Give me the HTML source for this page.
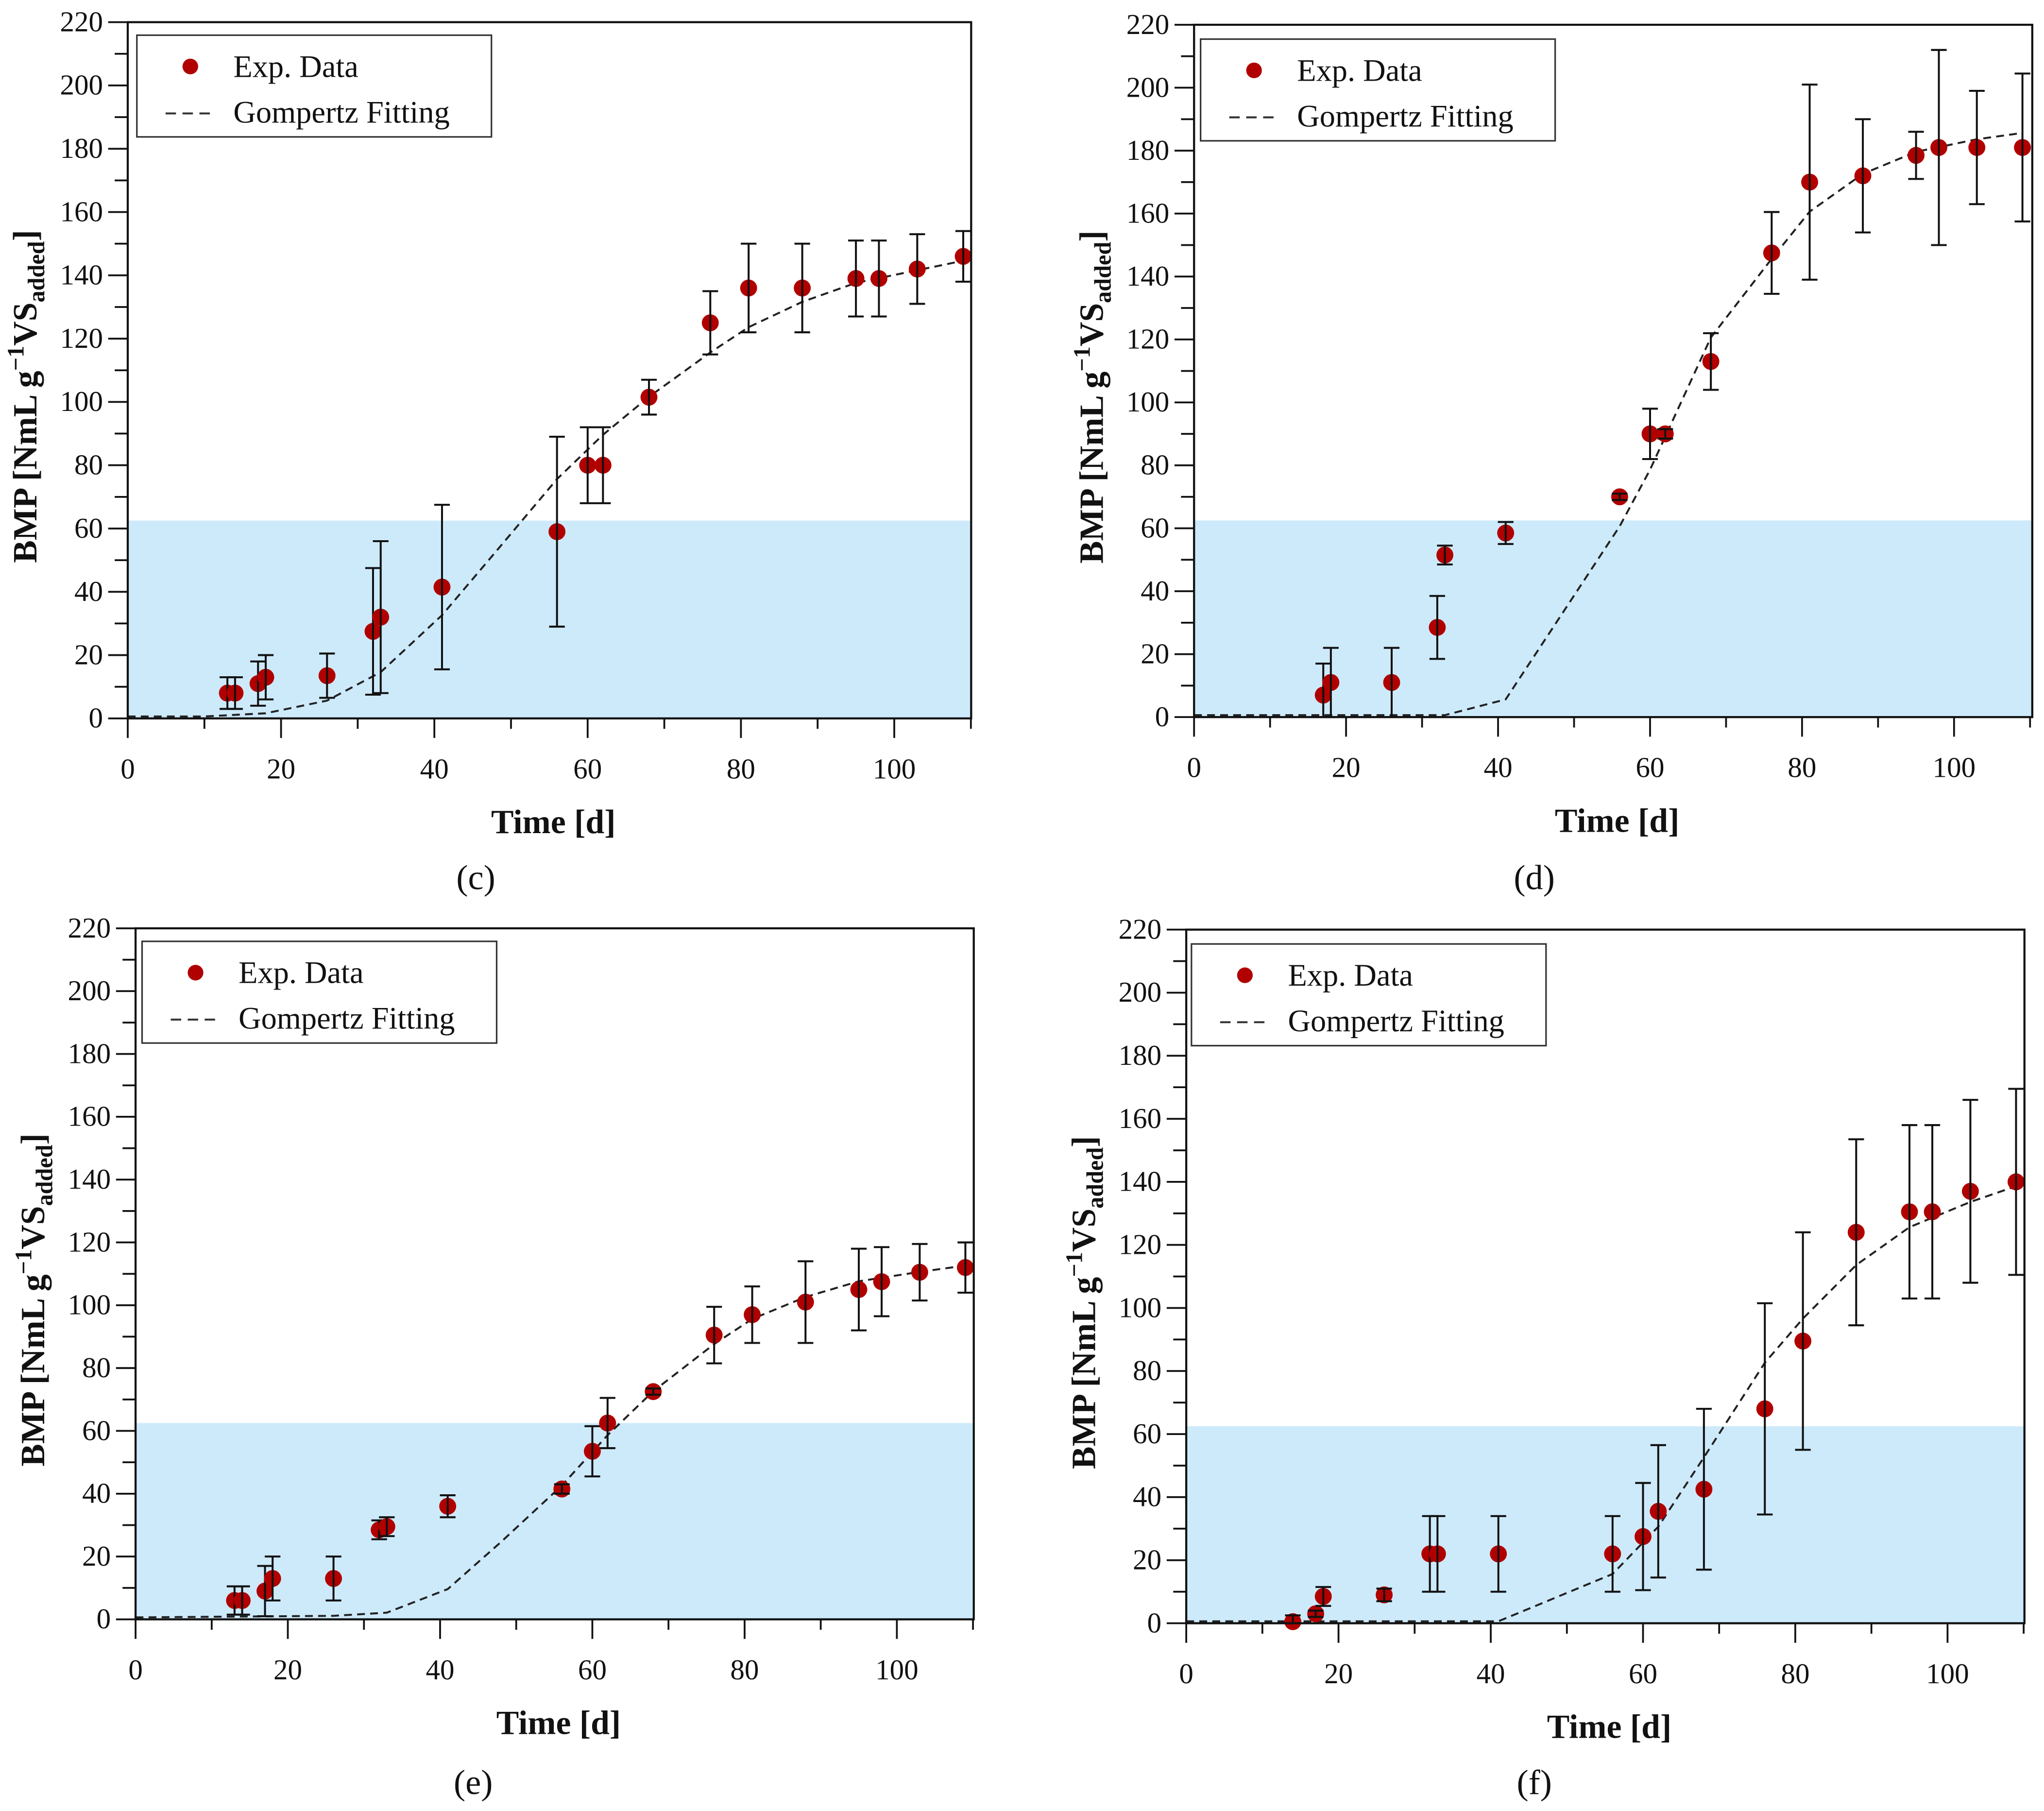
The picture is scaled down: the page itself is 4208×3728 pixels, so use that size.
<!DOCTYPE html>
<html><head><meta charset="utf-8"><style>
html,body{margin:0;padding:0;background:#fff}
svg{display:block;font-family:"Liberation Serif","DejaVu Serif",serif}
svg text{font-family:"Liberation Serif","DejaVu Serif",serif;fill:#111}
</style></head><body>
<svg id="fig" width="4208" height="3728" viewBox="0 0 1568 1389" preserveAspectRatio="none" font-family="Liberation Serif, serif" xmlns="http://www.w3.org/2000/svg"></svg>
<script>
// Panel (c)
const cX=[13,14,17,18,26,32,33,41,56,60,62,68,76,81,88,95,98,103,109];
const cY=[8,8,11,13,13.5,27.5,32,41.5,59,80,80,101.5,125,136,136,139,139,142,146];
const cE=[5,5,7,7,7,20,24,26,30,12,12,5.5,10,14,14,12,12,11,8];
const cFitX=[0,10,18,26,33,41,48,56,62,68,76,81,88,95,103,109];
const cFitY=[0,0,1,5,14,32,52,75,89,101,115,123,131,137,141,144];
// Panel (d)
const dX=[17,18,26,32,33,41,56,60,62,68,76,81,88,95,98,103,109];
const dY=[7,11,11,28.5,51.5,58.5,70,90,90,113,147.5,170,172,178.5,181,181,181];
const dE=[10,11,11,10,3,3.5,1,8,1.5,9,13,31,18,7.5,31,18,23.5];
const dFitX=[0,33,41,56,60,68,76,81,88,95,103,109];
const dFitY=[0,0,5,60,78,120,145,160,172,179,183,185];
// Panel (e)
const eX=[13,14,17,18,26,32,33,41,56,60,62,68,76,81,88,95,98,103,109];
const eY=[6,6,9,13,13,28.5,29.5,36,41.5,53.5,62.5,72.5,90.5,97,101,105,107.5,110.5,112];
const eE=[4.5,4.5,8,7,7,3,3,3.5,1.5,8,8,1,9,9,13,13,11,9,8];
const eFitX=[0,26,33,41,48,56,62,68,76,81,88,95,103,109];
const eFitY=[0,0.5,1.5,9,24,42,58,72,87,95,102,107,110,112];
// Panel (f)
const fX=[14,17,18,26,32,33,41,56,60,62,68,76,81,88,95,98,103,109];
const fY=[0.5,3,8.5,9,22,22,22,22,27.5,35.5,42.5,68,89.5,124,130.5,130.5,137,140];
const fE=[2,1,3,2,12,12,12,12,17,21,25.5,33.5,34.5,29.5,27.5,27.5,29,29.5];
const fFitX=[0,41,56,62,68,76,81,88,95,103,109];
const fFitY=[0,0,15,30,52,82,96,113,125,133,138];
const yTicks=[0,20,40,60,80,100,120,140,160,180,200,220];
const xTicks=[0,20,40,60,80,100];

const NS="http://www.w3.org/2000/svg";
const svg=document.getElementById('fig');
const FF='Liberation Serif, DejaVu Serif, serif';
function mk(tag,at,parent){const e=document.createElementNS(NS,tag);for(const k in at)e.setAttribute(k,at[k]);if(tag==='text')e.setAttribute('font-family',FF);(parent||svg).appendChild(e);return e;}

const panels=[
 {id:'c',L:98,R:745,T:17,B:551,x100:686,X:cX,Y:cY,E:cE,FX:cFitX,FY:cFitY,leg:[105,27],lab:[365,672]},
 {id:'d',L:916,R:1559,T:19,B:550,x100:1499,X:dX,Y:dY,E:dE,FX:dFitX,FY:dFitY,leg:[921,30],lab:[1177,672]},
 {id:'e',L:104,R:747,T:712,B:1242,x100:688,X:eX,Y:eY,E:eE,FX:eFitX,FY:eFitY,leg:[109,722],lab:[363,1366]},
 {id:'f',L:910,R:1553,T:713,B:1245,x100:1494,X:fX,Y:fY,E:fE,FX:fFitX,FY:fFitY,leg:[914,724],lab:[1177,1366]}
];
panels.forEach(p=>{
 const g=mk('g',{});
 
 
 const xs=v=>p.L+(p.x100-p.L)*v/100;
 const ys=v=>p.B-(p.B-p.T)*v/220;
 const band=mk('rect',{x:p.L,y:ys(62.5),width:p.R-p.L,height:p.B-ys(62.5),fill:'#cdeafb'},g);
 
 
 for(let v=0;v<=220;v+=10){const maj=v%20===0;mk('line',{x1:p.L-(maj?15:10),x2:p.L,y1:ys(v),y2:ys(v),stroke:'#111','stroke-width':1.4},g);}
 yTicks.forEach(v=>{const t=mk('text',{x:p.L-19,y:ys(v)+7,'font-size':22,'text-anchor':'end'},g);t.textContent=v;
  });
 for(let v=0;v<=110;v+=10){const maj=v%20===0;mk('line',{x1:xs(v),x2:xs(v),y1:p.B,y2:p.B+(maj?15:8),stroke:'#111','stroke-width':1.4},g);}
 xTicks.forEach(v=>{const t=mk('text',{x:xs(v),y:p.B+46,'font-size':22,'text-anchor':'middle'},g);t.textContent=v;
  });
 const pts=p.FX.map((x,i)=>xs(x)+','+(ys(p.FY[i])-1.5)).join(' ');
 const fit=mk('polyline',{points:pts,fill:'none',stroke:'#222','stroke-width':1.5,'stroke-dasharray':'6,4'},g);
 
 
 p.X.forEach((x,i)=>{
  const cx=xs(x),y1=ys(p.Y[i]+p.E[i]),y2=ys(Math.max(0,p.Y[i]-p.E[i]));
  const pt=mk('circle',{cx:cx,cy:ys(p.Y[i]),r:6.5,fill:'#b00000'},g);
  
  
  const eb=mk('path',{d:`M${cx},${y1}V${y2}M${cx-6},${y1}H${cx+6}M${cx-6},${y2}H${cx+6}`,stroke:'#111','stroke-width':1.5,fill:'none'},g);
  
  
 });
 const fr=mk('rect',{x:p.L,y:p.T,width:p.R-p.L,height:p.B-p.T,fill:'none',stroke:'#111','stroke-width':1.6},g);
 
 
 const [lx,ly]=p.leg;
 const lg=mk('g',{},g);
 
 
 mk('rect',{x:lx,y:ly,width:272,height:78,fill:'#fff',stroke:'#333','stroke-width':1.2},lg);
 mk('circle',{cx:lx+41,cy:ly+24,r:6,fill:'#b00000'},lg);
 const t1=mk('text',{x:lx+74,y:ly+32,'font-size':24},lg);t1.textContent='Exp. Data';
 
 mk('line',{x1:lx+22,x2:lx+60,y1:ly+60,y2:ly+60,stroke:'#333','stroke-width':1.5,'stroke-dasharray':'8,5'},lg);
 const t2=mk('text',{x:lx+74,y:ly+67,'font-size':24},lg);t2.textContent='Gompertz Fitting';
 
 const xt=mk('text',{x:(p.L+p.R)/2+3,y:p.B+88,'font-size':26,'font-weight':'bold','text-anchor':'middle'},g);
 xt.textContent='Time [d]';
 
 const cy=(p.T+p.B)/2+20,cxT=p.L-70;
 const yt=mk('text',{x:cxT,y:cy,'font-size':26,'font-weight':'bold','text-anchor':'middle',transform:`rotate(-90 ${cxT} ${cy})`},g);
 yt.innerHTML='BMP [NmL g<tspan dy="-10" font-size="18">−1</tspan><tspan dy="10">VS</tspan><tspan dy="6" font-size="18">added</tspan><tspan dy="-6">]</tspan>';
 
 const pl=mk('text',{x:p.lab[0],y:p.lab[1]+10,'font-size':27,'text-anchor':'middle'},g);
 pl.textContent='('+p.id+')';
 
});
</script>
</body></html>
